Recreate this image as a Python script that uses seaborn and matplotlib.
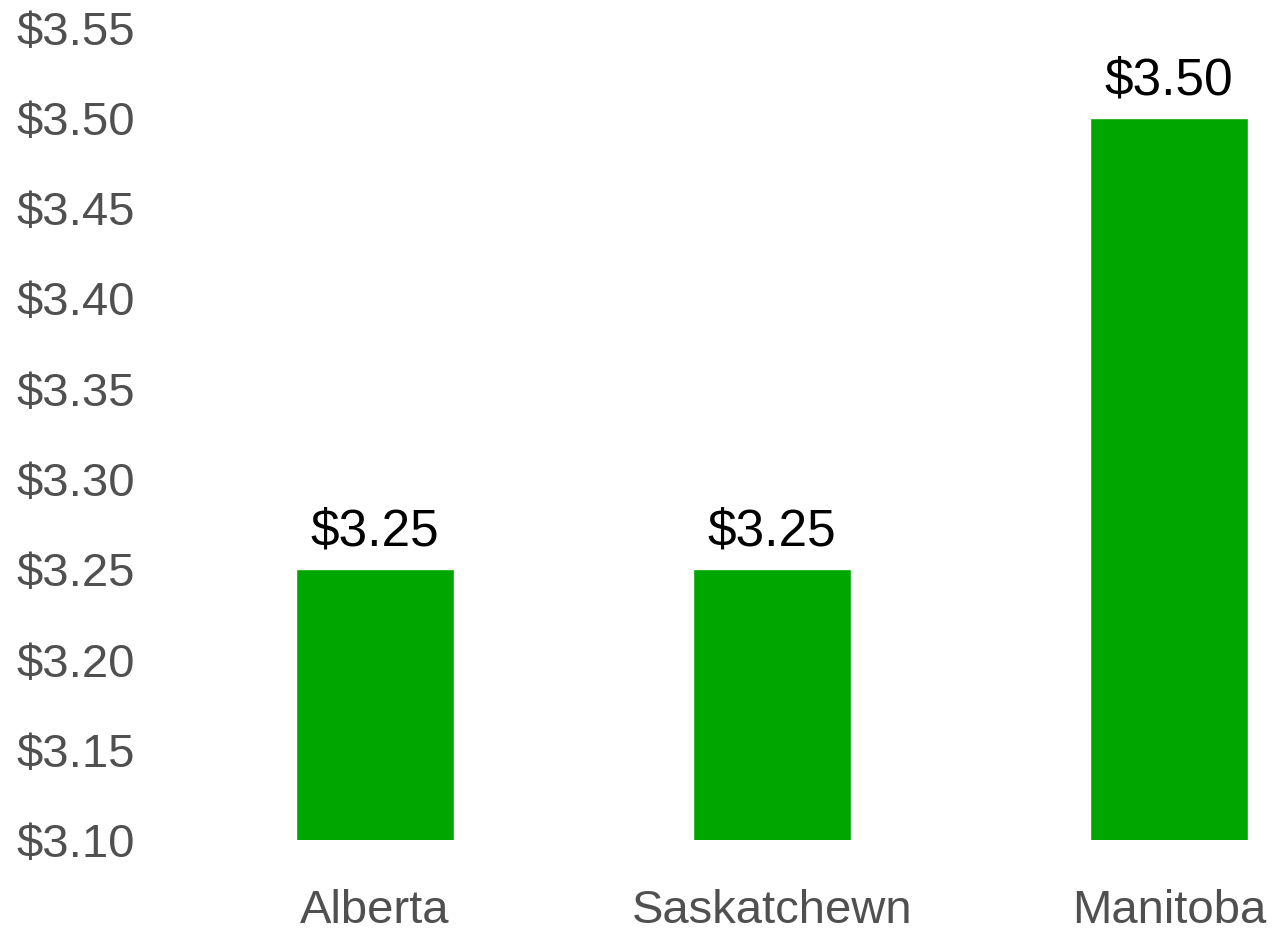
import pandas as pd
import matplotlib.pyplot as plt
import seaborn as sns

# chart data
provinces = ["Alberta", "Saskatchewn", "Manitoba"]
prices = [3.25, 3.25, 3.50]
y_ticks = [3.10, 3.15, 3.20, 3.25, 3.30, 3.35, 3.40, 3.45, 3.50, 3.55]

df = pd.DataFrame({"Province": provinces, "Price": prices})

sns.set_theme(style="white")
plt.rcParams['font.family'] = ['Liberation Sans', 'DejaVu Sans']

fig = plt.figure(figsize=(12.73, 9.35), dpi=100)
ax = fig.add_axes([150 / 1273, 1 - 840 / 935, 1 - 150 / 1273, (840 - 27.75) / 935])

sns.barplot(data=df, x="Province", y="Price", color="#00A600", width=0.4,
            saturation=1, ax=ax)

ax.set_ylim(3.10, 3.55)
ax.set_xlim(-225 / 397, 2 + 104 / 397)
ax.set_yticks(y_ticks)
ax.set_yticklabels([f"${v:.2f}" for v in y_ticks])
ax.set_xlabel("")
ax.set_ylabel("")
ax.tick_params(axis="y", labelsize=34, labelcolor="#505050", length=0, pad=11)
ax.tick_params(axis="x", labelsize=34, labelcolor="#505050", length=0, pad=35)
for s in ax.spines.values():
    s.set_visible(False)
ax.grid(False)

for i, v in enumerate(prices):
    ax.annotate(f"${v:.2f}", (i, v), xytext=(0, 9), textcoords="offset points",
                ha="center", va="bottom", fontsize=37, color="black")

plt.savefig("out.png", dpi=100)
